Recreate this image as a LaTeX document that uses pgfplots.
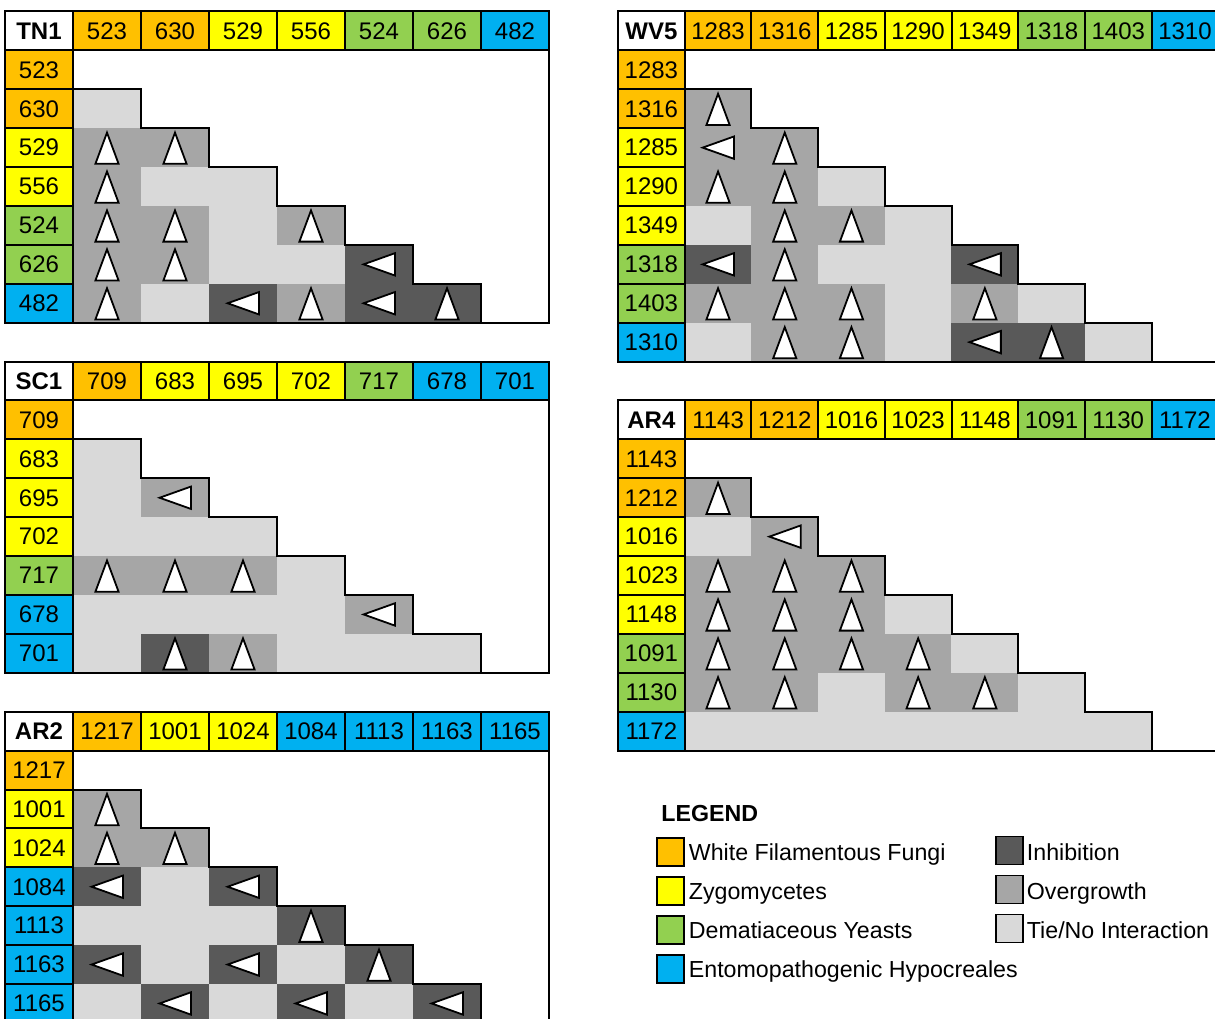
\documentclass[border=0pt]{standalone}
\usepackage{pgfplots}
\pgfplotsset{compat=1.18}
\usepackage{pgfplotstable}
\usepackage{fontspec}
\setmainfont{Liberation Sans}

\definecolor{cO}{HTML}{FFC000}
\definecolor{cY}{HTML}{FFFF00}
\definecolor{cG}{HTML}{92D050}
\definecolor{cB}{HTML}{00B0F0}
\definecolor{cD}{HTML}{595959}
\definecolor{cM}{HTML}{A6A6A6}
\definecolor{cL}{HTML}{D9D9D9}

\newcommand\cellfont{\fontsize{12}{14}\selectfont}
\newcommand\legfont{\fontsize{11.6}{14}\selectfont}

% cell marks (1 px = 0.5 pt)
\pgfdeclareplotmark{hcellL}{\pgfsetlinewidth{1pt}\pgfpathrectanglecorners{\pgfqpoint{-17pt}{-9.725pt}}{\pgfqpoint{17pt}{9.725pt}}\pgfusepathqfillstroke}
\pgfdeclareplotmark{hcellR}{\pgfsetlinewidth{1pt}\pgfpathrectanglecorners{\pgfqpoint{-16.675pt}{-9.725pt}}{\pgfqpoint{16.675pt}{9.725pt}}\pgfusepathqfillstroke}
\pgfdeclareplotmark{fillL}{\pgfpathrectanglecorners{\pgfqpoint{-17.1pt}{-9.8pt}}{\pgfqpoint{17.1pt}{9.8pt}}\pgfusepathqfill}
\pgfdeclareplotmark{fillR}{\pgfpathrectanglecorners{\pgfqpoint{-16.8pt}{-9.8pt}}{\pgfqpoint{16.8pt}{9.8pt}}\pgfusepathqfill}
\pgfdeclareplotmark{upT}{\pgfsetlinewidth{0.9pt}\pgfpathmoveto{\pgfqpoint{0pt}{7.5pt}}\pgfpathlineto{\pgfqpoint{-5.8pt}{-8.1pt}}\pgfpathlineto{\pgfqpoint{5.8pt}{-8.1pt}}\pgfpathclose\pgfusepathqfillstroke}
\pgfdeclareplotmark{leftT}{\pgfsetlinewidth{0.9pt}\pgfpathmoveto{\pgfqpoint{-7.7pt}{0pt}}\pgfpathlineto{\pgfqpoint{8pt}{5.6pt}}\pgfpathlineto{\pgfqpoint{8pt}{-5.6pt}}\pgfpathclose\pgfusepathqfillstroke}
\pgfdeclareplotmark{blank}{}
\pgfdeclareplotmark{legsq}{\pgfsetlinewidth{0.7pt}\pgfpathrectanglecorners{\pgfqpoint{-6.75pt}{-7pt}}{\pgfqpoint{6.75pt}{7pt}}\pgfusepathqfillstroke}

\pgfplotsset{
  table/LP/.style={x expr=5+68*(\thisrow{c}+0.5), y expr=11.5+38.9*(\thisrow{r}+#1+0.5)},
  table/RP/.style={x expr=618+66.7*(\thisrow{c}+0.5), y expr=11.5+38.9*(\thisrow{r}+#1+0.5)},
  table/LB/.style={x expr=5+68*\thisrow{c}, y expr=11.5+38.9*(\thisrow{r}+#1)},
  table/RB/.style={x expr=618+66.7*\thisrow{c}, y expr=11.5+38.9*(\thisrow{r}+#1)},
  nnc/.style={every node near coord/.append style={anchor=center, font=\cellfont, text=black, inner sep=0pt}},
  shades/.style={scatter, only marks, scatter src=explicit symbolic,
    scatter/classes={L={mark=#1,fill=cL}, M={mark=#1,fill=cM}, D={mark=#1,fill=cD}}},
  hdrc/.style n args={3}{only marks, mark=#1, mark options={fill=#2, draw=black},
    restrict expr to domain={\thisrow{k}}{#3:#3},
    nodes near coords, point meta=explicit symbolic, nnc},
  tris/.style={scatter, only marks, scatter src=explicit symbolic,
    scatter/classes={u={mark=upT,fill=white,draw=black}, l={mark=leftT,fill=white,draw=black}, n={mark=blank}}},
  ttl/.style 2 args={only marks, mark=#1, mark options={fill=white, draw=black},
    nodes near coords={\textbf{#2}}, nnc},
  lns/.style={black, line width=1pt, no marks, on layer=axis foreground},
}

% ---------- panel outlines ----------
\pgfplotstableread{
c r
8 0
8 8
0 8
}\frameA
\pgfplotstableread{
c r
1 2
2 2
2 3
3 3
3 4
4 4
4 5
5 5
5 6
6 6
6 7
7 7
7 8
}\stairA
\pgfplotstableread{
c r
9 0
9 9
0 9
}\frameB
\pgfplotstableread{
c r
1 2
2 2
2 3
3 3
3 4
4 4
4 5
5 5
5 6
6 6
6 7
7 7
7 8
8 8
8 9
}\stairB

% group code k: 1 white filamentous fungi, 2 zygomycetes, 3 dematiaceous yeasts, 4 entomopathogenic hypocreales
% ---------- TN1 ----------
\pgfplotstableread{
c r k lab
1 0 1 523
2 0 1 630
3 0 2 529
4 0 2 556
5 0 3 524
6 0 3 626
7 0 4 482
0 1 1 523
0 2 1 630
0 3 2 529
0 4 2 556
0 5 3 524
0 6 3 626
0 7 4 482
}\TNh
\pgfplotstableread{
c r s t
1 2 L n
1 3 M u
2 3 M u
1 4 M u
2 4 L n
3 4 L n
1 5 M u
2 5 M u
3 5 L n
4 5 M u
1 6 M u
2 6 M u
3 6 L n
4 6 L n
5 6 D l
1 7 M u
2 7 L n
3 7 D l
4 7 M u
5 7 D l
6 7 D u
}\TNi

% ---------- SC1 ----------
\pgfplotstableread{
c r k lab
1 0 1 709
2 0 2 683
3 0 2 695
4 0 2 702
5 0 3 717
6 0 4 678
7 0 4 701
0 1 1 709
0 2 2 683
0 3 2 695
0 4 2 702
0 5 3 717
0 6 4 678
0 7 4 701
}\SCh
\pgfplotstableread{
c r s t
1 2 L n
1 3 L n
2 3 M l
1 4 L n
2 4 L n
3 4 L n
1 5 M u
2 5 M u
3 5 M u
4 5 L n
1 6 L n
2 6 L n
3 6 L n
4 6 L n
5 6 M l
1 7 L n
2 7 D u
3 7 M u
4 7 L n
5 7 L n
6 7 L n
}\SCi

% ---------- AR2 ----------
\pgfplotstableread{
c r k lab
1 0 1 1217
2 0 2 1001
3 0 2 1024
4 0 4 1084
5 0 4 1113
6 0 4 1163
7 0 4 1165
0 1 1 1217
0 2 2 1001
0 3 2 1024
0 4 4 1084
0 5 4 1113
0 6 4 1163
0 7 4 1165
}\ARTh
\pgfplotstableread{
c r s t
1 2 M u
1 3 M u
2 3 M u
1 4 D l
2 4 L n
3 4 D l
1 5 L n
2 5 L n
3 5 L n
4 5 D u
1 6 D l
2 6 L n
3 6 D l
4 6 L n
5 6 D u
1 7 L n
2 7 D l
3 7 L n
4 7 D l
5 7 L n
6 7 D l
}\ARTi

% ---------- WV5 ----------
\pgfplotstableread{
c r k lab
1 0 1 1283
2 0 1 1316
3 0 2 1285
4 0 2 1290
5 0 2 1349
6 0 3 1318
7 0 3 1403
8 0 4 1310
0 1 1 1283
0 2 1 1316
0 3 2 1285
0 4 2 1290
0 5 2 1349
0 6 3 1318
0 7 3 1403
0 8 4 1310
}\WVh
\pgfplotstableread{
c r s t
1 2 M u
1 3 M l
2 3 M u
1 4 M u
2 4 M u
3 4 L n
1 5 L n
2 5 M u
3 5 M u
4 5 L n
1 6 D l
2 6 M u
3 6 L n
4 6 L n
5 6 D l
1 7 M u
2 7 M u
3 7 M u
4 7 L n
5 7 M u
6 7 L n
1 8 L n
2 8 M u
3 8 M u
4 8 L n
5 8 D l
6 8 D u
7 8 L n
}\WVi

% ---------- AR4 ----------
\pgfplotstableread{
c r k lab
1 0 1 1143
2 0 1 1212
3 0 2 1016
4 0 2 1023
5 0 2 1148
6 0 3 1091
7 0 3 1130
8 0 4 1172
0 1 1 1143
0 2 1 1212
0 3 2 1016
0 4 2 1023
0 5 2 1148
0 6 3 1091
0 7 3 1130
0 8 4 1172
}\AFh
\pgfplotstableread{
c r s t
1 2 M u
1 3 L n
2 3 M l
1 4 M u
2 4 M u
3 4 M u
1 5 M u
2 5 M u
3 5 M u
4 5 L n
1 6 M u
2 6 M u
3 6 M u
4 6 M u
5 6 L n
1 7 M u
2 7 M u
3 7 L n
4 7 M u
5 7 M u
6 7 L n
1 8 L n
2 8 L n
3 8 L n
4 8 L n
5 8 L n
6 8 L n
7 8 L n
}\AFi

% ---------- legend ----------
\pgfplotstableread{
x y k
670.5 852 O
670.5 891 Y
670.5 930 G
670.5 969 B
1009.5 850.5 D
1009.5 889.5 M
1009.5 928.5 L
}\LEG

\begin{document}
\begin{tikzpicture}
\begin{axis}[
  x=0.5pt, y=0.5pt, y dir=reverse,
  xmin=0, xmax=1215, ymin=0, ymax=1018,
  hide axis, clip=true, clip marker paths=true,
  set layers,
]
% interior shading
\addplot[shades=fillL] table[LP=0, meta=s] {\TNi};
\addplot[shades=fillL] table[LP=9, meta=s] {\SCi};
\addplot[shades=fillL] table[LP=18, meta=s] {\ARTi};
\addplot[shades=fillR] table[RP=0, meta=s] {\WVi};
\addplot[shades=fillR] table[RP=10, meta=s] {\AFi};
% header and label cells
\addplot[hdrc={hcellL}{cO}{1}] table[LP=0, meta=lab] {\TNh};
\addplot[hdrc={hcellL}{cY}{2}] table[LP=0, meta=lab] {\TNh};
\addplot[hdrc={hcellL}{cG}{3}] table[LP=0, meta=lab] {\TNh};
\addplot[hdrc={hcellL}{cB}{4}] table[LP=0, meta=lab] {\TNh};
\addplot[hdrc={hcellL}{cO}{1}] table[LP=9, meta=lab] {\SCh};
\addplot[hdrc={hcellL}{cY}{2}] table[LP=9, meta=lab] {\SCh};
\addplot[hdrc={hcellL}{cG}{3}] table[LP=9, meta=lab] {\SCh};
\addplot[hdrc={hcellL}{cB}{4}] table[LP=9, meta=lab] {\SCh};
\addplot[hdrc={hcellL}{cO}{1}] table[LP=18, meta=lab] {\ARTh};
\addplot[hdrc={hcellL}{cY}{2}] table[LP=18, meta=lab] {\ARTh};
\addplot[hdrc={hcellL}{cB}{4}] table[LP=18, meta=lab] {\ARTh};
\addplot[hdrc={hcellR}{cO}{1}] table[RP=0, meta=lab] {\WVh};
\addplot[hdrc={hcellR}{cY}{2}] table[RP=0, meta=lab] {\WVh};
\addplot[hdrc={hcellR}{cG}{3}] table[RP=0, meta=lab] {\WVh};
\addplot[hdrc={hcellR}{cB}{4}] table[RP=0, meta=lab] {\WVh};
\addplot[hdrc={hcellR}{cO}{1}] table[RP=10, meta=lab] {\AFh};
\addplot[hdrc={hcellR}{cY}{2}] table[RP=10, meta=lab] {\AFh};
\addplot[hdrc={hcellR}{cG}{3}] table[RP=10, meta=lab] {\AFh};
\addplot[hdrc={hcellR}{cB}{4}] table[RP=10, meta=lab] {\AFh};
% titles
\addplot[ttl={hcellL}{TN1}] table[LP=0] {
c r
0 0
};
\addplot[ttl={hcellL}{SC1}] table[LP=9] {
c r
0 0
};
\addplot[ttl={hcellL}{AR2}] table[LP=18] {
c r
0 0
};
\addplot[ttl={hcellR}{WV5}] table[RP=0] {
c r
0 0
};
\addplot[ttl={hcellR}{AR4}] table[RP=10] {
c r
0 0
};
% triangles
\addplot[tris] table[LP=0, meta=t] {\TNi};
\addplot[tris] table[LP=9, meta=t] {\SCi};
\addplot[tris] table[LP=18, meta=t] {\ARTi};
\addplot[tris] table[RP=0, meta=t] {\WVi};
\addplot[tris] table[RP=10, meta=t] {\AFi};
% outlines
\addplot[lns] table[LB=0] {\frameA};
\addplot[lns] table[LB=0] {\stairA};
\addplot[lns] table[LB=9] {\frameA};
\addplot[lns] table[LB=9] {\stairA};
\addplot[lns] table[LB=18] {\frameA};
\addplot[lns] table[LB=18] {\stairA};
\addplot[lns] table[RB=0] {\frameB};
\addplot[lns] table[RB=0] {\stairB};
\addplot[lns] table[RB=10] {\frameB};
\addplot[lns] table[RB=10] {\stairB};
% legend
\addplot[scatter, only marks, scatter src=explicit symbolic,
  scatter/classes={O={mark=legsq,fill=cO,draw=black}, Y={mark=legsq,fill=cY,draw=black},
    G={mark=legsq,fill=cG,draw=black}, B={mark=legsq,fill=cB,draw=black},
    D={mark=legsq,fill=cD,draw=black}, M={mark=legsq,fill=cM,draw=black},
    L={mark=legsq,fill=cL,draw=black}}]
  table[x=x, y=y, meta=k] {\LEG};
\node[anchor=base west, inner sep=0pt, font=\legfont\bfseries] at (axis cs:661,821.5) {LEGEND};
\node[anchor=base west, inner sep=0pt, font=\legfont] at (axis cs:688.5,860.5) {White Filamentous Fungi};
\node[anchor=base west, inner sep=0pt, font=\legfont] at (axis cs:688.5,899.5) {Zygomycetes};
\node[anchor=base west, inner sep=0pt, font=\legfont] at (axis cs:688.5,938.5) {Dematiaceous Yeasts};
\node[anchor=base west, inner sep=0pt, font=\legfont] at (axis cs:688.5,977.5) {Entomopathogenic Hypocreales};
\node[anchor=base west, inner sep=0pt, font=\legfont] at (axis cs:1026.5,860.5) {Inhibition};
\node[anchor=base west, inner sep=0pt, font=\legfont] at (axis cs:1026.5,899.5) {Overgrowth};
\node[anchor=base west, inner sep=0pt, font=\legfont] at (axis cs:1026.5,938.5) {Tie/No Interaction};
\end{axis}
\pgfresetboundingbox
\path[use as bounding box] (current axis.south west) rectangle (current axis.north east);
\end{tikzpicture}
\end{document}
